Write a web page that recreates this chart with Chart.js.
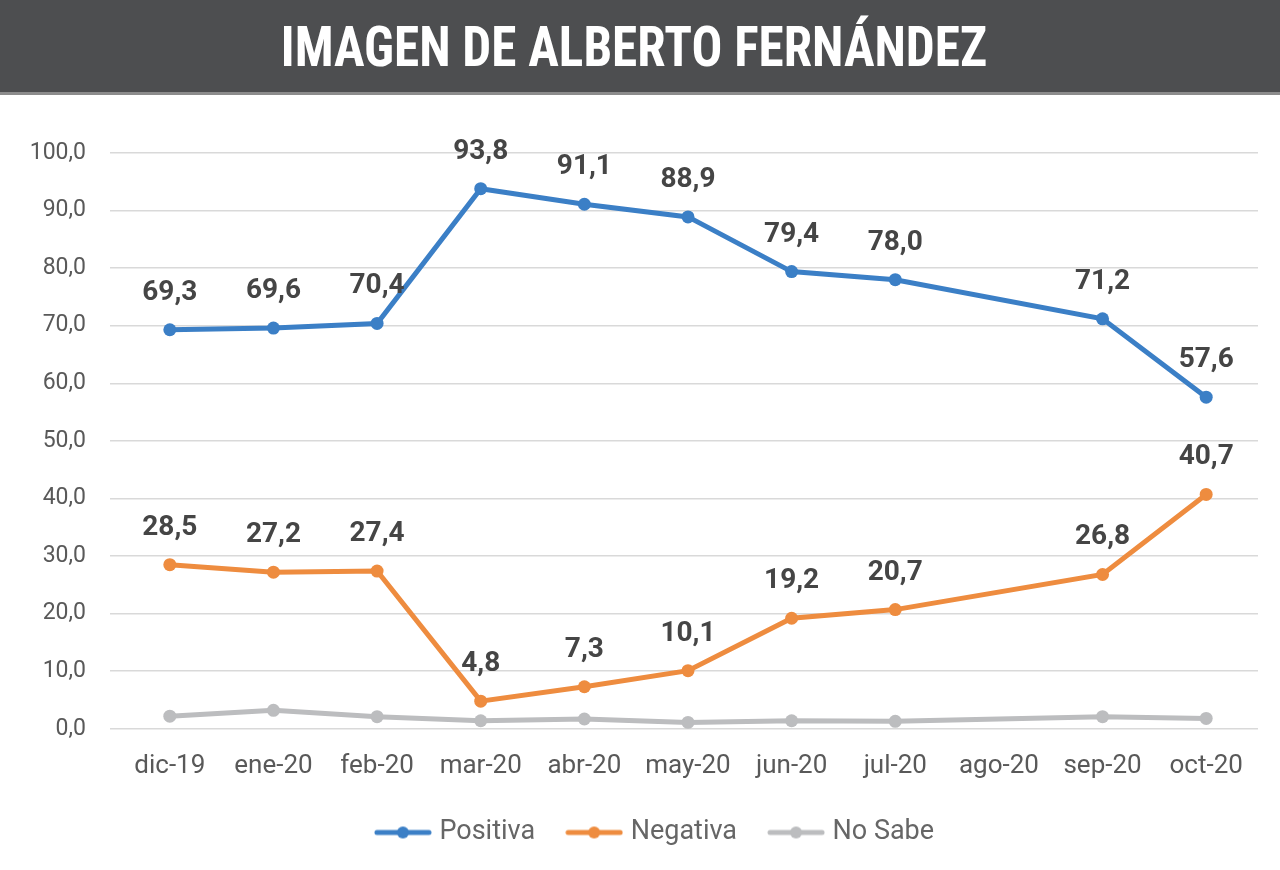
<!DOCTYPE html>
<html lang="es">
<head>
<meta charset="utf-8">
<title>Imagen de Alberto Fernández</title>
<script src="https://cdn.jsdelivr.net/npm/chart.js@4.4.1/dist/chart.umd.min.js"></script>
<style>
  html, body { margin: 0; padding: 0; background: #fff; }
  body { width: 1280px; height: 870px; overflow: hidden; }
  .header {
    height: 92px;
    background: #4d4e50;
    border-bottom: 3px solid #8c8c8c;
    display: flex; align-items: center; justify-content: center;
  }
  .header h1 {
    margin: 0; color: #fff;
    font-family: "Liberation Sans Narrow", "Roboto Condensed", "Liberation Sans", sans-serif;
    font-weight: 700; font-size: 56px; letter-spacing: 0;
    transform: translate(-6px, 1px) scaleX(0.915);
  }
  .wrap { position: relative; width: 1280px; height: 775px; }
</style>
</head>
<body>
<div class="header"><h1>IMAGEN DE ALBERTO FERNÁNDEZ</h1></div>
<div class="wrap"><canvas id="chart"></canvas></div>
<script>
// ── Datos ─────────────────────────────────────────────
const months = ['dic-19', 'ene-20', 'feb-20', 'mar-20', 'abr-20', 'may-20', 'jun-20', 'jul-20', 'ago-20', 'sep-20', 'oct-20'];
const positiva = [69.3, 69.6, 70.4, 93.8, 91.1, 88.9, 79.4, 78.0, null, 71.2, 57.6];
const negativa = [28.5, 27.2, 27.4, 4.8, 7.3, 10.1, 19.2, 20.7, null, 26.8, 40.7];
const noSabe   = [2.2, 3.2, 2.1, 1.4, 1.7, 1.1, 1.4, 1.3, null, 2.1, 1.8];
const yTicks   = [0, 10, 20, 30, 40, 50, 60, 70, 80, 90, 100];

const FONT = 'Roboto, "Liberation Sans", sans-serif';
const fmt = v => v.toFixed(1).replace('.', ',');

// marcador de leyenda: linea con punto al centro
function legendMarker(color) {
  const c = document.createElement('canvas');
  c.width = 58; c.height = 16;
  const g = c.getContext('2d');
  g.strokeStyle = color; g.lineWidth = 5; g.lineCap = 'round';
  g.beginPath(); g.moveTo(3, 8); g.lineTo(55, 8); g.stroke();
  g.fillStyle = color;
  g.beginPath(); g.arc(29, 8, 6, 0, Math.PI * 2); g.fill();
  return c;
}

// etiquetas de valor sobre los puntos
const valueLabels = {
  id: 'valueLabels',
  afterDatasetsDraw(chart) {
    const ctx = chart.ctx;
    ctx.save();
    ctx.font = `700 28px ${FONT}`;
    ctx.fillStyle = '#454545';
    ctx.textAlign = 'center';
    ctx.textBaseline = 'middle';
    chart.data.datasets.forEach((ds, i) => {
      if (!ds.showValues) return;
      chart.getDatasetMeta(i).data.forEach((pt, j) => {
        const v = ds.data[j];
        if (v == null) return;
        ctx.fillText(fmt(v), pt.x, pt.y - 37);
      });
    });
    ctx.restore();
  }
};

// la leyenda del original esta un poco corrida a la derecha
const legendShift = {
  id: 'legendShift',
  afterLayout(chart) {
    if (!chart.legend) return;
    chart.legend.left += 28;
    chart.legend.right += 28;
  }
};

const lineDs = (label, data, color, showValues) => ({
  label, data, showValues,
  borderColor: color, backgroundColor: color,
  borderWidth: 5, pointRadius: 6.5, pointHoverRadius: 6.5,
  pointBackgroundColor: color, pointBorderWidth: 0,
  pointStyle: 'circle', tension: 0, spanGaps: true
});

new Chart(document.getElementById('chart'), {
  type: 'line',
  data: {
    labels: months,
    datasets: [
      lineDs('Positiva', positiva, '#3b7fc6', true),
      lineDs('Negativa', negativa, '#ee8c3f', true),
      lineDs('No Sabe', noSabe, '#bcbdbf', false)
    ]
  },
  plugins: [valueLabels, legendShift],
  options: {
    responsive: true,
    maintainAspectRatio: false,
    animation: false,
    layout: { padding: { top: 58, right: 22, bottom: 14, left: 0 } },
    scales: {
      x: {
        offset: true,
        grid: { display: false },
        border: { display: false },
        afterFit: s => { s.height -= 13; },
        ticks: { color: '#595959', font: { family: FONT, size: 26 }, padding: 14 }
      },
      y: {
        min: 0, max: 100,
        afterBuildTicks: s => { s.ticks = yTicks.map(v => ({ value: v })); },
        afterFit: s => { s.width = 118; },
        grid: { color: '#d9d9d9', lineWidth: 1.5 },
        border: { display: false },
        ticks: { color: '#595959', font: { family: FONT, size: 23 }, padding: 24, callback: v => fmt(v) }
      }
    },
    plugins: {
      tooltip: { enabled: false },
      legend: {
        position: 'bottom',
        labels: {
          usePointStyle: true,
          pointStyleWidth: 46,
          color: '#666',
          font: { family: FONT, size: 27 },
          padding: 36,
          generateLabels: chart => chart.data.datasets.map((ds, i) => ({
            text: ds.label,
            pointStyle: legendMarker(ds.borderColor),
            fontColor: '#666',
            datasetIndex: i,
            hidden: false
          }))
        }
      }
    }
  }
});
</script>
</body>
</html>
